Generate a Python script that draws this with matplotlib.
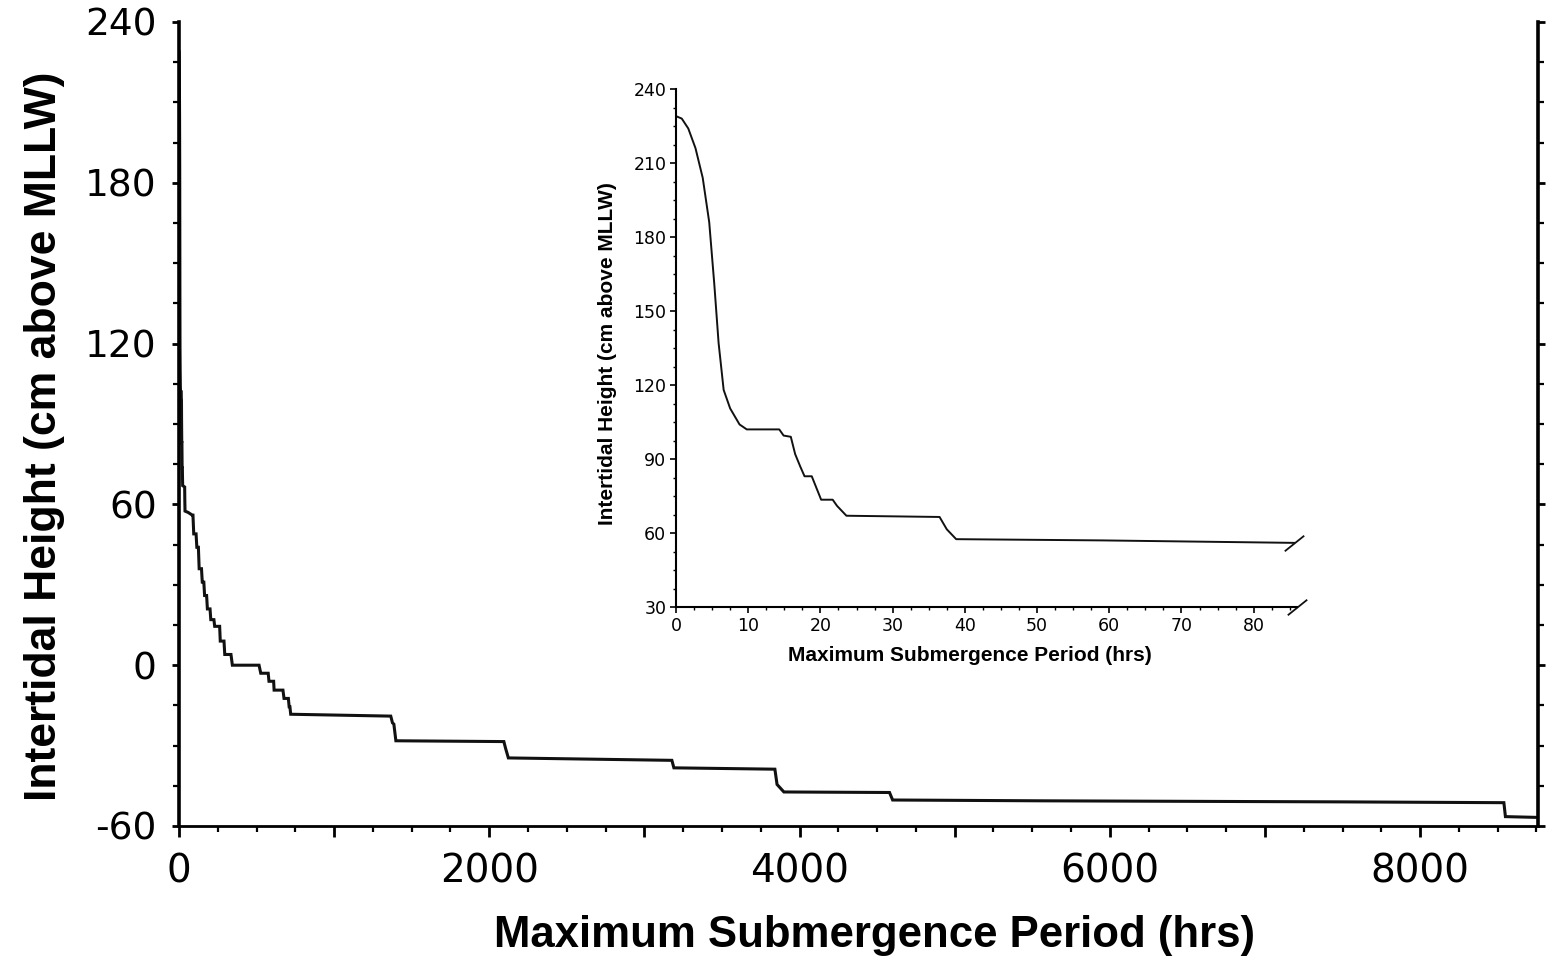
import matplotlib.pyplot as plt
from matplotlib.ticker import MultipleLocator, FixedLocator, FuncFormatter

plt.rcParams['font.family'] = ['Liberation Sans', 'DejaVu Sans']
plt.rcParams['axes.unicode_minus'] = False

# inset curve: first ~86 hrs of submergence
inset_hours = [0, 0.8, 1.7, 2.7, 3.7, 4.6, 5.3, 5.9, 6.6, 7.5, 8.8, 9.8, 14.3, 14.9,
               15.9, 16.5, 17.2, 17.8, 18.8, 20.1, 21.7, 22.3, 23.6, 36.5, 37.5,
               38.8, 59, 85.6]
inset_height = [229, 228, 224, 216, 204, 186, 161, 137, 118, 110.5, 104, 102, 102, 99.5,
                99, 92, 87, 83, 83, 73.5, 73.5, 71, 67, 66.5, 61.5,
                57.5, 57, 56]

# rest of the year (hrs > 86), stepped record
long_hours = [90, 95, 110, 115, 125, 130, 145, 150, 160, 165, 178, 183, 200, 205,
              225, 230, 262, 266, 290, 295, 335, 344, 516, 527, 575, 580, 610, 613,
              670, 677, 705, 710, 715, 720, 1365, 1376, 1385, 1398, 2094, 2105,
              2123, 3177, 3190, 3841, 3855, 3899, 4580, 4600, 5550, 7500, 8540,
              8550, 8760]
long_height = [56, 49, 49, 44, 44, 36, 36, 31, 31, 26, 26, 21, 21, 17,
               17, 14.5, 14.5, 9, 9, 4, 4, 0, 0, -3, -3, -6, -6, -9.3,
               -9.3, -12.4, -12.4, -15.5, -15.5, -18.3, -19, -21.5, -22, -28.2, -28.5, -31,
               -34.6, -35.5, -38.3, -38.8, -44.5, -47.3, -47.5, -50.3, -50.6, -51, -51.3,
               -56.5, -56.8]

hours = inset_hours + long_hours
height = inset_height + long_height

main_xlabels = {0: '0', 2000: '2000', 4000: '4000', 6000: '6000', 8000: '8000'}
main_yticks = [-60, 0, 60, 120, 180, 240]
inset_xticks = [0, 10, 20, 30, 40, 50, 60, 70, 80]
inset_yticks = [30, 60, 90, 120, 150, 180, 210, 240]

fig = plt.figure(figsize=(15.51, 9.59), dpi=100)

ax = fig.add_axes([179 / 1551, 133 / 959, 1359 / 1551, 804 / 959])
ax.plot(hours, height, color='#111111', lw=2.2, solid_joinstyle='miter')
ax.set_xlim(0, 8760)
ax.set_ylim(-60, 240)
ax.spines['top'].set_visible(False)
ax.spines['left'].set_linewidth(2.6)
ax.spines['right'].set_linewidth(2.6)
ax.spines['bottom'].set_linewidth(2.0)
ax.xaxis.set_major_locator(MultipleLocator(1000))
ax.xaxis.set_minor_locator(MultipleLocator(250))
ax.xaxis.set_major_formatter(FuncFormatter(lambda v, p: main_xlabels.get(int(round(v)), '')))
ax.yaxis.set_major_locator(FixedLocator(main_yticks))
ax.yaxis.set_minor_locator(MultipleLocator(15))
ax.tick_params(axis='x', which='major', direction='out', length=8, width=2, pad=11,
               labelsize=28)
ax.tick_params(axis='x', which='minor', direction='out', length=4.5, width=1.6)
ax.tick_params(axis='y', which='major', direction='out', length=5, width=2, pad=11,
               labelsize=27, right=True)
ax.tick_params(axis='y', which='minor', direction='out', length=4, width=1.6, right=True)
for lab in ax.get_xticklabels() + ax.get_yticklabels():
    lab.set_family('DejaVu Sans')
fig.text(45 / 1551, 1 - 436 / 959, 'Intertidal Height (cm above MLLW)', rotation=90,
         ha='center', va='center', fontsize=32, fontweight='bold')
fig.text(875 / 1551, 1 - 936 / 959, 'Maximum Submergence Period (hrs)',
         ha='center', va='center', fontsize=31.5, fontweight='bold')

# inset
axi = fig.add_axes([676 / 1551, 352 / 959, 621 / 1551, 518 / 959])
axi.plot(inset_hours, inset_height, color='#111111', lw=1.4)
axi.set_xlim(0, 86)
axi.set_ylim(30, 240)
for s in ['top', 'right']:
    axi.spines[s].set_visible(False)
for s in ['left', 'bottom']:
    axi.spines[s].set_linewidth(1.5)
axi.xaxis.set_major_locator(FixedLocator(inset_xticks))
axi.xaxis.set_minor_locator(MultipleLocator(2.5))
axi.yaxis.set_major_locator(FixedLocator(inset_yticks))
axi.yaxis.set_minor_locator(MultipleLocator(7.5))
axi.tick_params(which='major', direction='out', length=4, width=1.2, labelsize=12.5, pad=3)
axi.tick_params(which='minor', direction='out', length=2, width=1)
for lab in axi.get_xticklabels() + axi.get_yticklabels():
    lab.set_family('DejaVu Sans')
axi.set_xlabel('Maximum Submergence Period (hrs)', fontsize=15, fontweight='bold')
axi.set_ylabel('Intertidal Height (cm above MLLW)', fontsize=15, fontweight='bold')
axi.xaxis.set_label_coords(0.473, -0.075)
axi.yaxis.set_label_coords(-0.095, 0.49)

# axis break marks at the right end of the inset
brk = [(-1, -0.8), (1, 0.8)]
axi.plot([inset_hours[-1]], [inset_height[-1]], marker=brk, ms=14, mew=1.3,
         color='#111111', clip_on=False)
axi.plot([86], [30], marker=brk, ms=14, mew=1.3, color='#111111', clip_on=False)

fig.savefig('out.png', dpi=100)
